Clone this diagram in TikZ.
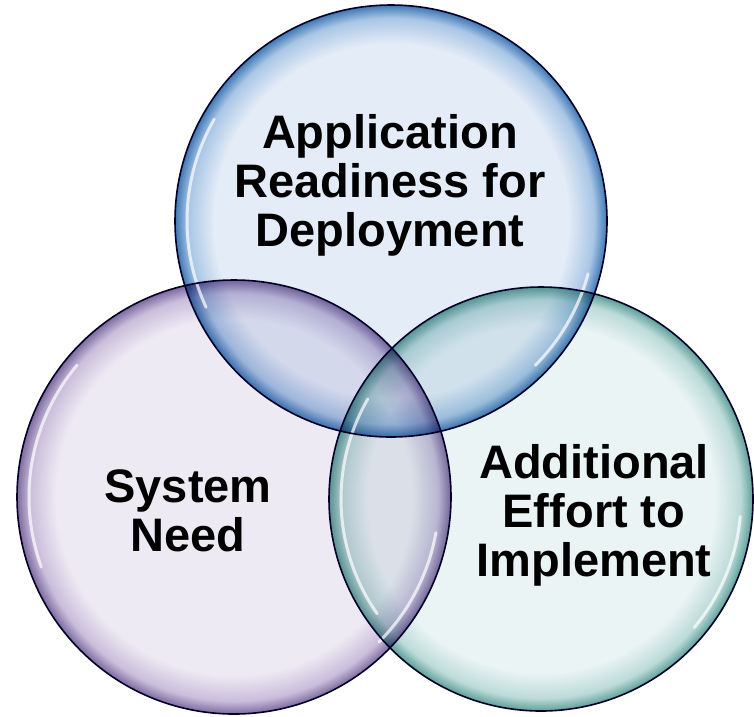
\documentclass[tikz,border=0pt]{standalone}
\usepackage{fontspec}
\setmainfont{Liberation Sans}
\usetikzlibrary{calc}
\definecolor{bIn}{HTML}{E4ECF7}
\definecolor{bMid}{HTML}{A9C6E6}
\definecolor{bOut}{HTML}{3F78B5}
\definecolor{pIn}{HTML}{EEEAF3}
\definecolor{pMid}{HTML}{C9BEDB}
\definecolor{pOut}{HTML}{7E6AA0}
\definecolor{tIn}{HTML}{EAF4F4}
\definecolor{tMid}{HTML}{BCDBD8}
\definecolor{tOut}{HTML}{5E9F99}
\pgfdeclareradialshading{bubbleB}{\pgfpoint{0bp}{0bp}}{color(0bp)=(bIn); color(20.5bp)=(bIn); color(23.5bp)=(bMid); color(25bp)=(bOut); color(50bp)=(bOut)}
\pgfdeclareradialshading{bubbleP}{\pgfpoint{0bp}{0bp}}{color(0bp)=(pIn); color(20.5bp)=(pIn); color(23.5bp)=(pMid); color(25bp)=(pOut); color(50bp)=(pOut)}
\pgfdeclareradialshading{bubbleT}{\pgfpoint{0bp}{0bp}}{color(0bp)=(tIn); color(20.5bp)=(tIn); color(23.5bp)=(tMid); color(25bp)=(tOut); color(50bp)=(tOut)}
\tikzset{
  bubble/.style={blend mode=multiply},
  rim/.style={draw=black!85!blue, line width=1.6pt},
  gloss/.style={white, line width=3pt, opacity=0.7, line cap=round},
  label/.style={font=\fontsize{47}{49}\selectfont\bfseries, align=center, inner sep=0pt, text=black}
}
\begin{document}
\begin{tikzpicture}[x=1pt,y=-1pt]
\useasboundingbox (0,0) rectangle (754,716);
\fill[white] (0,0) rectangle (754,716);
\coordinate (cT) at (391,221);
\coordinate (cL) at (234,497);
\coordinate (cR) at (541,499);
\begin{scope}[blend group=multiply]
\shade[shading=bubbleB] (cT) circle[radius=216pt];
\shade[shading=bubbleP] (cL) circle[radius=217pt];
\shade[shading=bubbleT] (cR) circle[radius=212pt];
\end{scope}
% gloss highlights
\draw[gloss] ($(cT)+(150:204pt)$) arc[start angle=150, end angle=205, radius=204pt];
\draw[gloss] ($(cT)+(-15:204pt)$) arc[start angle=-15, end angle=-45, radius=204pt];
\draw[gloss] ($(cL)+(140:205pt)$) arc[start angle=140, end angle=200, radius=205pt];
\draw[gloss] ($(cL)+(-10:205pt)$) arc[start angle=-10, end angle=-45, radius=205pt];
\draw[gloss] ($(cR)+(150:200pt)$) arc[start angle=150, end angle=215, radius=200pt];
\draw[gloss] ($(cR)+(-5:200pt)$) arc[start angle=-5, end angle=-40, radius=200pt];
% rims
\draw[rim] (cT) circle[radius=216pt];
\draw[rim] (cL) circle[radius=217pt];
\draw[rim] (cR) circle[radius=212pt];
\node[label] (app) at (390,185) {Application\\Readiness for\\Deployment};
\node[label] (sys) at (188,511) {System\\Need};
\node[label] (add) at (594,515) {Additional\\Effort to\\Implement};
\end{tikzpicture}
\end{document}
